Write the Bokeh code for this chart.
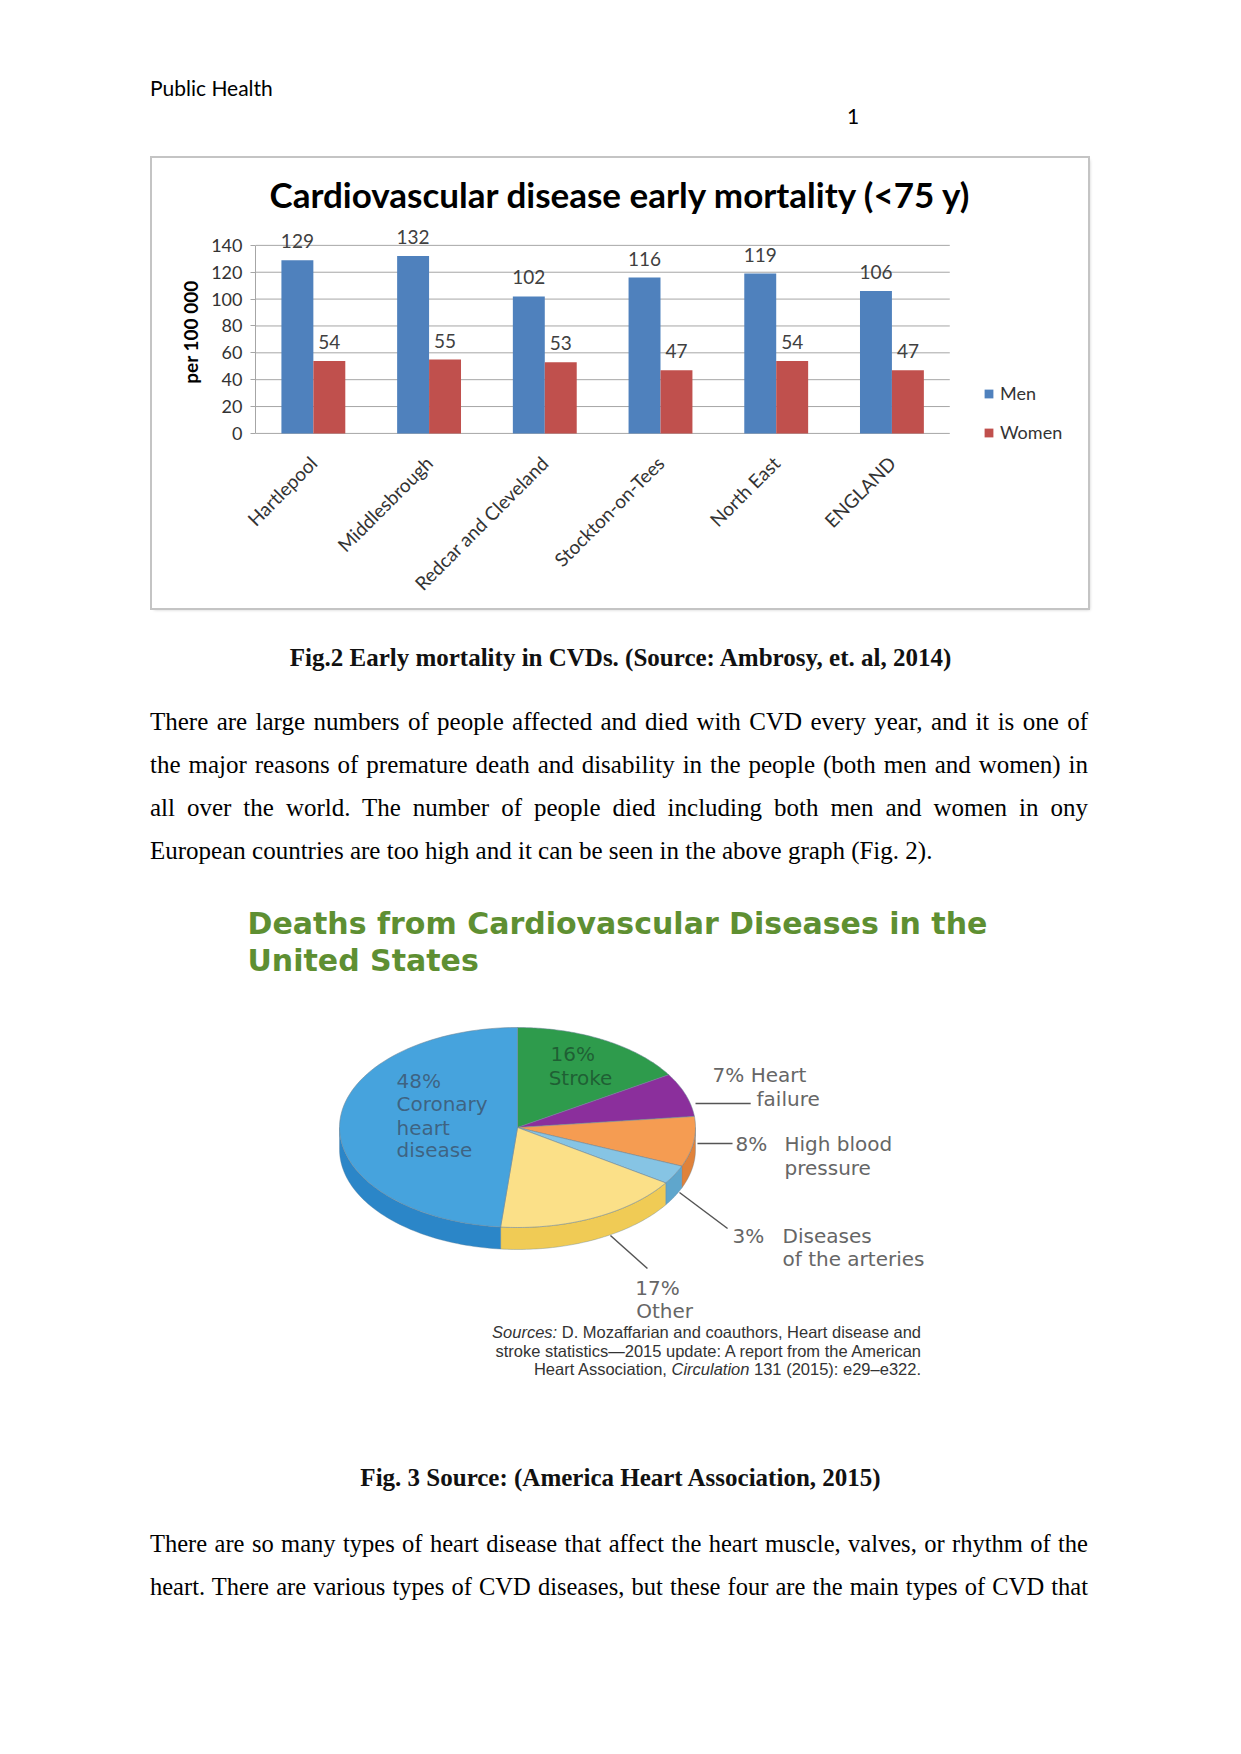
import numpy as np
from math import pi
from bokeh.plotting import figure
from bokeh.models import (ColumnDataSource, FactorRange, Range1d, FixedTicker, Div,
                          Legend, LegendItem, Spacer)
from bokeh.transform import dodge
from bokeh.layouts import column, row
from bokeh.embed import file_html
from bokeh.resources import INLINE
from bokeh.core.properties import value

# ---------------- data ----------------
regions = ["Hartlepool", "Middlesbrough", "Redcar and Cleveland",
           "Stockton-on-Tees", "North East", "ENGLAND"]
men = [129, 132, 102, 116, 119, 106]
women = [54, 55, 53, 47, 54, 47]
y_ticks = [0, 20, 40, 60, 80, 100, 120, 140]

causes = ["Stroke", "Heart failure", "High blood pressure",
          "Diseases of the arteries", "Other", "Coronary heart disease"]
shares = [16, 7, 8, 3, 17, 48]
top_colors = ["#2e9b4c", "#8b2f9c", "#f59c52", "#86c4e4", "#fbe088", "#46a3dd"]
side_colors = ["#237a3a", "#6e2180", "#e0823a", "#5fa6cc", "#f0cb55", "#2b86c8"]

para1 = [
    "There are large numbers of people affected and died with CVD every year, and it is one of",
    "the major reasons of premature death and disability in the people (both men and women) in",
    "all over the world. The number of people died including both men and women in ony",
    "European countries are too high and it can be seen in the above graph (Fig. 2).",
]
para2 = [
    "There are so many types of heart disease that affect the heart muscle, valves, or rhythm of the",
    "heart. There are various types of CVD diseases, but these four are the main types of CVD that",
]
caption1 = "Fig.2 Early mortality in CVDs. (Source: Ambrosy, et. al, 2014)"
caption2 = "Fig. 3 Source: (America Heart Association, 2015)"

# ---------------- header ----------------
header = Div(
    text=('<div style="position:relative;width:1241px;height:158px;">'
          '<div style="position:absolute;left:150px;top:75px;font-family:Lato;font-size:21px;'
          'line-height:26px;color:#000;white-space:nowrap;">Public Health</div>'
          '<div style="position:absolute;left:847px;top:103px;font-family:Lato;font-size:21px;'
          'line-height:26px;color:#000;">1</div></div>'),
    width=1241, height=158, margin=0)

# ---------------- bar chart ----------------
src = ColumnDataSource(dict(region=regions, men=men, women=women,
                            men_lbl=[str(v) for v in men],
                            women_lbl=[str(v) for v in women]))
grid_src = ColumnDataSource(dict(tick=y_ticks,
                                 first=[regions[0]] * len(y_ticks),
                                 last=[regions[-1]] * len(y_ticks)))

# one blank factor after the regions leaves room for the legend
bar = figure(x_range=FactorRange(*(regions + [" "])), y_range=Range1d(-9, 160),
             width=936, height=450, output_backend="svg", toolbar_location=None,
             min_border_left=103, min_border_right=23, min_border_top=60,
             min_border_bottom=163, margin=0,
             styles={"outline": "2px solid #c4c4c4", "box-shadow": "2px 2px 3px #d0d0d0"})
bar.outline_line_color = None
bar.background_fill_color = "white"
bar.border_fill_color = "white"

# grid lines spanning the six regions only
bar.segment(x0=dodge("first", -0.5, range=bar.x_range), x1=dodge("last", 0.5, range=bar.x_range),
            y0="tick", y1="tick", source=grid_src, line_color="#a6a6a6", line_width=1)

r_men = bar.vbar(x=dodge("region", -0.138, range=bar.x_range), top="men", width=0.276,
                 source=src, fill_color="#4F81BD", line_color=None)
r_women = bar.vbar(x=dodge("region", 0.138, range=bar.x_range), top="women", width=0.276,
                   source=src, fill_color="#C0504D", line_color=None)
bar.text(x=dodge("region", -0.138, range=bar.x_range), y="men", text="men_lbl", source=src,
         text_align="center", text_baseline="bottom", y_offset=-12,
         text_font=value("Lato"), text_font_size="19px", text_color="#404040")
bar.text(x=dodge("region", 0.138, range=bar.x_range), y="women", text="women_lbl", source=src,
         text_align="center", text_baseline="bottom", y_offset=-12,
         text_font=value("Lato"), text_font_size="19px", text_color="#404040")

bar.title.text = "Cardiovascular disease early mortality (<75 y)"
bar.title.align = "left"
bar.title.offset = 14
bar.title.standoff = 7
bar.title.text_font = "Lato"
bar.title.text_font_style = "bold"
bar.title.text_font_size = "35px"
bar.title.text_color = "#000000"

bar.yaxis.ticker = FixedTicker(ticks=y_ticks)
bar.yaxis.bounds = (0, 140)
bar.yaxis.axis_label = "per 100 000"
bar.yaxis.axis_label_text_font = "Lato"
bar.yaxis.axis_label_text_font_style = "bold"
bar.yaxis.axis_label_text_font_size = "19px"
bar.yaxis.axis_label_text_color = "#000000"
bar.yaxis.axis_label_standoff = 6
bar.yaxis.major_label_text_font = "Lato"
bar.yaxis.major_label_text_font_size = "18px"
bar.yaxis.major_label_text_color = "#333333"
bar.yaxis.axis_line_color = "#a6a6a6"
bar.yaxis.major_tick_line_color = "#a6a6a6"
bar.yaxis.major_tick_out = 5
bar.yaxis.major_tick_in = 0
bar.yaxis.minor_tick_line_color = None
bar.yaxis.major_label_standoff = 8

bar.xaxis.major_label_orientation = pi / 4
bar.xaxis.major_label_text_font = "Lato"
bar.xaxis.major_label_text_font_size = "19px"
bar.xaxis.major_label_text_color = "#333333"
bar.xaxis.axis_line_color = None
bar.xaxis.major_tick_line_color = None
bar.xaxis.major_label_standoff = 8

bar.xgrid.grid_line_color = None
bar.ygrid.grid_line_color = None

legend = Legend(items=[LegendItem(label="Men", renderers=[r_men]),
                       LegendItem(label="Women", renderers=[r_women])],
                location=(728, 2), glyph_width=11, glyph_height=11,
                label_text_font="Lato", label_text_font_size="18px",
                label_text_color="#333333", spacing=17, margin=0, padding=0,
                label_standoff=6, label_height=20,
                background_fill_alpha=0, border_line_alpha=0)
bar.add_layout(legend)

# ---------------- text block 1 ----------------
def para_html(lines, justify_last, size):
    out = []
    for i, ln in enumerate(lines):
        last = "justify" if (i < len(lines) - 1 or justify_last) else "left"
        out.append('<div style="text-align:justify;text-align-last:%s;white-space:nowrap;'
                   'font-size:%s;">%s</div>' % (last, size, ln))
    return "".join(out)

block1 = Div(
    text=('<div style="position:relative;width:1241px;height:272px;font-family:\'Liberation Serif\';color:#000;">'
          '<div style="position:absolute;left:0;width:1241px;top:36px;text-align:center;font-weight:bold;'
          'font-size:25px;line-height:28px;color:#111;">%s</div>'
          '<div style="position:absolute;left:150px;width:938px;top:92px;line-height:43px;">%s</div>'
          '</div>') % (caption1, para_html(para1, False, "25px")),
    width=1241, height=272, margin=0)

# ---------------- pie chart ----------------
pie = figure(width=940, height=442, x_range=Range1d(-2.0618, 3.219), y_range=Range1d(-1.95, 2.47),
             x_axis_type=None, y_axis_type=None, output_backend="svg", toolbar_location=None,
             min_border=0, margin=0)
pie.outline_line_color = None
pie.grid.visible = False

depth = 0.22
total = float(sum(shares))
cum = np.cumsum(shares) / total * 360.0
starts = 90.0 - np.concatenate([[0.0], cum[:-1]])
ends = 90.0 - cum

side_xs, side_ys, side_c = [], [], []
top_xs, top_ys = [], []
for s, e, sc in zip(starts, ends, side_colors):
    t = np.radians(np.linspace(s, e, 80))
    top_xs.append(np.concatenate([[0.0], np.cos(t)]))
    top_ys.append(np.concatenate([[0.0], np.sin(t)]))
    hi, lo = min(s, 0.0), max(e, -180.0)
    if lo < hi:
        tt = np.radians(np.linspace(hi, lo, 60))
        side_xs.append(np.concatenate([np.cos(tt), np.cos(tt[::-1])]))
        side_ys.append(np.concatenate([np.sin(tt), np.sin(tt[::-1]) - depth]))
        side_c.append(sc)

pie.patches(side_xs, side_ys, fill_color=side_c, line_color="#5b7f99", line_width=0.6, line_alpha=0.6)
pie.patches(top_xs, top_ys, fill_color=top_colors, line_color="#6f8796", line_width=0.8, line_alpha=0.7)

# titles
pie.text(x=[-1.517, -1.517], y=[2.04, 1.67],
         text=["Deaths from Cardiovascular Diseases in the", "United States"],
         text_font=value("DejaVu Sans"), text_font_style="bold", text_font_size="30px",
         text_color="#5e8f32", text_baseline="middle", text_align="left")

# inside labels
pie.text(x=[-0.68] * 4, y=[0.47, 0.24, 0.0, -0.22],
         text=["48%", "Coronary", "heart", "disease"],
         text_font=value("DejaVu Sans"), text_font_size="20px", text_color="#3d5872",
         text_alpha=0.85, text_baseline="middle", text_align="left")
pie.text(x=[0.185, 0.175], y=[0.74, 0.50], text=["16%", "Stroke"],
         text_font=value("DejaVu Sans"), text_font_size="20px", text_color="#1d5530",
         text_alpha=0.85, text_baseline="middle", text_align="left")

# outside labels
pie.text(x=[1.096, 1.343, 1.225, 1.50, 1.50, 1.208, 1.489, 1.489],
         y=[0.53, 0.29, -0.16, -0.16, -0.40, -1.08, -1.08, -1.31],
         text=["7% Heart", "failure", "8%", "High blood", "pressure", "3%", "Diseases",
               "of the arteries"],
         text_font=value("DejaVu Sans"), text_font_size="20px", text_color="#666666",
         text_baseline="middle", text_align="left")
pie.text(x=[0.787, 0.826], y=[-1.60, -1.83], text=["17%", "Other"],
         text_font=value("DejaVu Sans"), text_font_size="20px", text_color="#666666",
         text_baseline="middle", text_align="center")

# leader lines
pie.segment(x0=[1.0, 1.011, 0.910, 0.522], y0=[0.24, -0.16, -0.65, -1.08],
            x1=[1.31, 1.208, 1.18, 0.730], y1=[0.24, -0.16, -1.01, -1.41],
            line_color="#555555", line_width=1.5)

# ---------------- sources ----------------
sources = Div(
    text=('<div style="position:relative;width:1241px;height:68px;">'
          '<div style="position:absolute;left:150px;width:771px;top:1px;text-align:right;'
          'font-family:\'Liberation Sans\';font-size:16.5px;line-height:18.5px;color:#333;white-space:nowrap;">'
          '<i>Sources:</i> D. Mozaffarian and coauthors, Heart disease and<br>'
          'stroke statistics\u20142015 update: A report from the American<br>'
          'Heart Association, <i>Circulation</i> 131 (2015): e29\u2013e322.</div></div>'),
    width=1241, height=68, margin=0)

# ---------------- text block 2 ----------------
block2 = Div(
    text=('<div style="position:relative;width:1241px;height:364px;font-family:\'Liberation Serif\';color:#000;">'
          '<div style="position:absolute;left:0;width:1241px;top:74px;text-align:center;font-weight:bold;'
          'font-size:25px;line-height:28px;color:#111;">%s</div>'
          '<div style="position:absolute;left:150px;width:938px;top:131.5px;line-height:43px;">%s</div>'
          '</div>') % (caption2, para_html(para2, True, "24.5px")),
    width=1241, height=364, margin=0)

bar_row = row(Spacer(width=152, height=450, margin=0), bar,
              Spacer(width=153, height=450, margin=0), margin=0)
pie_row = row(Spacer(width=150, height=442, margin=0), pie,
              Spacer(width=151, height=442, margin=0), margin=0)
page = column(header, bar_row, block1, pie_row, sources, block2, margin=0)

open("out.html", "w").write(file_html(page, INLINE, title="Public Health"))
